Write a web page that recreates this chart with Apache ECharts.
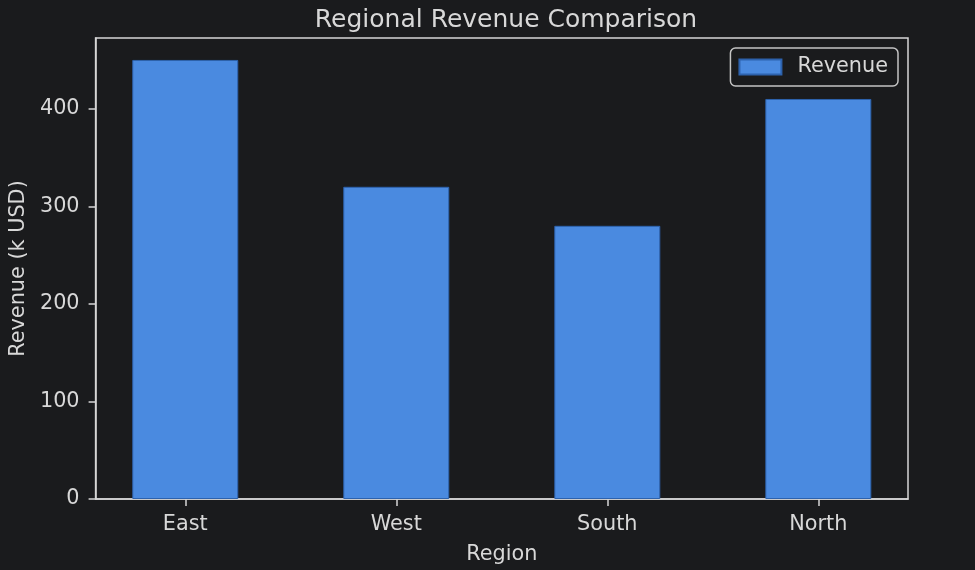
<!DOCTYPE html>
<html lang="en">
<head>
    <meta charset="UTF-8">
    <title>Regional Revenue Comparison</title>
    <script src="https://cdn.jsdelivr.net/npm/echarts/dist/echarts.min.js"></script>
    <style>
        html, body {
            margin: 0;
            padding: 0;
            background: #1a1b1d;
        }
        #chart {
            width: 975px;
            height: 570px;
        }
    </style>
</head>
<body>
<div id="chart"></div>

<script>
    // data
    const regions = ['East', 'West', 'South', 'North'];
    const revenue = [450, 320, 280, 410];
    const yTicks = [0, 100, 200, 300, 400];

    const textColor = '#d8d8d8';
    const frameColor = '#d6d6d6';
    const font = 'DejaVu Sans';

    const chart = echarts.init(document.getElementById('chart'));
    const option = {
        backgroundColor: '#1a1b1d',
        textStyle: { fontFamily: font, color: textColor },
        title: {
            text: 'Regional Revenue Comparison',
            left: 501,
            top: 3,
            textAlign: 'center',
            textStyle: { color: textColor, fontSize: 25, fontWeight: 'normal', fontFamily: font }
        },
        legend: {
            right: 77,
            top: 48,
            icon: 'rect',
            itemWidth: 42,
            itemHeight: 15,
            padding: [8, 10, 8, 8],
            borderColor: '#c4c4c4',
            borderWidth: 1.5,
            borderRadius: 5,
            backgroundColor: '#1a1b1d',
            textStyle: { color: textColor, fontSize: 20.8, fontFamily: font, padding: [0, 0, 0, 11], lineHeight: 22 },
            data: ['Revenue']
        },
        grid: {
            left: 95,
            right: 67,
            top: 38,
            bottom: 71,
            show: true,
            borderColor: frameColor,
            borderWidth: 1.5,
            backgroundColor: 'transparent'
        },
        xAxis: {
            type: 'value',
            min: -0.425,
            max: 3.425,
            name: 'Region',
            nameLocation: 'middle',
            nameGap: 45,
            nameTextStyle: { color: textColor, fontSize: 20.8, fontFamily: font },
            axisLine: { show: true, onZero: false, lineStyle: { color: frameColor, width: 1.5 } },
            axisTick: {
                show: true,
                length: 7,
                customValues: regions.map((r, i) => i),
                lineStyle: { color: frameColor, width: 1.5 }
            },
            axisLabel: {
                customValues: regions.map((r, i) => i),
                formatter: v => regions[Math.round(v)] || '',
                color: textColor,
                fontSize: 20.8,
                fontFamily: font,
                margin: 15
            },
            splitLine: { show: false }
        },
        yAxis: {
            type: 'value',
            min: 0,
            max: 472.5,
            name: 'Revenue (k USD)',
            nameLocation: 'middle',
            nameGap: 66,
            nameTextStyle: { color: textColor, fontSize: 20.8, fontFamily: font },
            axisLine: { show: true, onZero: false, lineStyle: { color: frameColor, width: 1.5 } },
            axisTick: {
                show: true,
                length: 7,
                customValues: yTicks,
                lineStyle: { color: frameColor, width: 1.5 }
            },
            axisLabel: {
                customValues: yTicks,
                color: textColor,
                fontSize: 20.8,
                fontFamily: font,
                margin: 16,
                padding: [4, 0, 0, 0]
            },
            splitLine: { show: false }
        },
        series: [
            {
                name: 'Revenue',
                type: 'bar',
                barWidth: 106,
                data: revenue.map((v, i) => [i, v]),
                itemStyle: {
                    color: '#4a8ae0',
                    borderColor: '#2d62ad',
                    borderWidth: 1
                }
            }
        ]
    };
    chart.setOption(option);
</script>
</body>
</html>
